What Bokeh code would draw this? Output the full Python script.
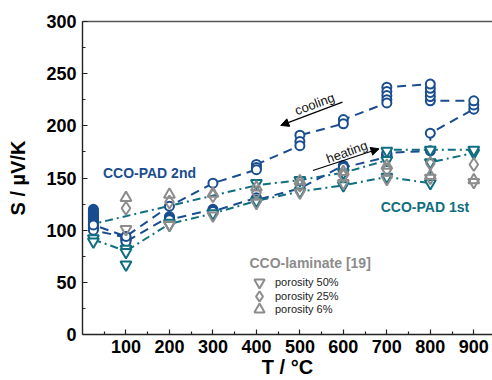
from bokeh.plotting import figure
from bokeh.models import (Range1d, LinearAxis, Label, Arrow, NormalHead, Legend,
                          LegendItem, FixedTicker)
from bokeh.embed import file_html
from bokeh.resources import INLINE

BLUE = "#1a4d8f"
TEAL = "#0f6f80"
GRAY = "#8c8c8c"
FONT = "Liberation Sans"

# ---- CCO-PAD 2nd run (heating then cooling, measurement order) ----
t_pad2 = [25, 25, 25, 25, 25, 25, 25, 25, 25, 25, 25, 25, 25, 25, 25, 25, 25, 25, 25, 25, 25,
          100, 100, 100, 100, 100,
          200, 200, 200, 200,
          300, 300, 300,
          400, 400,
          500,
          600, 600, 600,
          700, 700, 700, 700, 700,
          800, 800,
          900, 900, 900,
          800, 800, 800, 800, 800,
          700, 700, 700, 700, 700,
          600, 600,
          500, 500, 500,
          400, 400, 400,
          300,
          200,
          100,
          25]
s_pad2 = [120, 119, 118, 117, 116, 115, 114, 113, 112, 111, 110, 109, 108, 107, 106, 105,
          104, 103, 102, 101, 100,
          93, 92, 91, 90, 89,
          113, 112, 111, 110,
          120, 119, 118,
          131, 129,
          140,
          162, 161, 160,
          170, 171, 172, 173, 174,
          176, 193,
          216, 220, 224,
          224, 228, 232, 236, 240,
          237, 233, 229, 225, 222,
          206, 202,
          191, 185, 181,
          163, 160, 158,
          145,
          123,
          94,
          105]

# ---- CCO-PAD 1st run ----
t_pad1_heat = [25, 100, 200, 300, 400, 500, 600, 700, 800, 800, 900]
s_pad1_heat = [91, 80, 106, 116, 128, 137, 143, 151, 145, 165, 174]
t_pad1_cool = [900, 800, 700, 700, 600, 500, 400, 25]
s_pad1_cool = [177, 177, 177, 167, 155, 148, 143, 106]
t_pad1_pts = [25, 25, 100, 100, 100, 200, 200, 300, 400, 400, 500, 500,
              600, 600, 700, 700, 700, 800, 800, 800, 900, 900]
s_pad1_pts = [92, 89, 82, 79, 67, 107, 105, 116, 128, 145, 137, 148,
              143, 155, 151, 167, 176, 145, 165, 177, 174, 177]

# ---- CCO-laminate [19] ----
t_lam = [100, 200, 300, 400, 500, 600, 700, 800, 900]
s_por50 = [101, 105, 114, 126, 136, 145, 149, 150, 146]
s_por25 = [121, 127, 133, 136, 143, 152, 158, 164, 163]
s_por6 = [131, 134, 135, 141, 147, 156, 162, 152, 148]
lam_labels = ["porosity 50%", "porosity 25%", "porosity 6%"]

x_ticks = [100, 200, 300, 400, 500, 600, 700, 800, 900]
x_minor = [50, 150, 250, 350, 450, 550, 650, 750, 850]
y_ticks = [0, 50, 100, 150, 200, 250, 300]
y_minor = [25, 75, 125, 175, 225, 275]

p = figure(width=492, height=380, output_backend="svg", toolbar_location=None,
           x_range=Range1d(0, 943), y_range=Range1d(0, 300),
           min_border_left=82, min_border_right=0, min_border_top=21,
           min_border_bottom=46)
p.outline_line_color = None
p.xgrid.visible = False
p.ygrid.visible = False
p.background_fill_color = "white"

for ax in (p.xaxis[0], p.yaxis[0]):
    ax.axis_line_color = "#222222"
    ax.axis_line_width = 1.4
    ax.major_tick_line_color = "#222222"
    ax.minor_tick_line_color = "#222222"
    ax.major_tick_line_width = 1.2
    ax.minor_tick_line_width = 1.2
    ax.major_tick_in = 5
    ax.major_tick_out = 0
    ax.minor_tick_in = 3
    ax.minor_tick_out = 0
    ax.major_label_text_font = FONT
    ax.major_label_text_font_style = "bold"
    ax.major_label_text_font_size = "18px"
    ax.major_label_text_color = "black"
    ax.axis_label_text_font = FONT
    ax.axis_label_text_font_style = "bold"
    ax.axis_label_text_font_size = "20px"
    ax.axis_label_text_color = "black"
p.xaxis.ticker = FixedTicker(ticks=x_ticks, minor_ticks=x_minor)
p.yaxis.ticker = FixedTicker(ticks=y_ticks, minor_ticks=y_minor)
p.xaxis.major_label_standoff = 5
p.yaxis.major_label_standoff = 6
p.xaxis.axis_label = "T / °C"
p.yaxis.axis_label = "S / µV/K"
p.xaxis.axis_label_standoff = 0
p.yaxis.axis_label_standoff = 14

top = LinearAxis(ticker=FixedTicker(ticks=[]), axis_line_color="#555555",
                 axis_line_width=1.4, major_tick_line_color=None,
                 minor_tick_line_color=None, major_label_text_font_size="0px",
                 major_label_standoff=0)
p.add_layout(top, "above")

# lines
p.line(t_pad1_heat, s_pad1_heat, line_color=TEAL, line_width=2, line_dash="8 4 2 4")
p.line(t_pad1_cool, s_pad1_cool, line_color=TEAL, line_width=2, line_dash="8 4 2 4")
p.line(t_pad2, s_pad2, line_color=BLUE, line_width=2, line_dash="9 6")

# markers
p.scatter(t_pad2, s_pad2, marker="circle", size=9, line_color=BLUE,
          fill_color="white", line_width=2)
p.scatter(t_pad1_pts, s_pad1_pts, marker="inverted_triangle", size=11,
          line_color=TEAL, fill_color="white", line_width=2)
r50 = p.scatter(t_lam, s_por50, marker="inverted_triangle", size=11,
                line_color=GRAY, fill_color=None, line_width=2)
r25 = p.scatter(t_lam, s_por25, marker="diamond", size=13,
                line_color=GRAY, fill_color=None, line_width=2)
r6 = p.scatter(t_lam, s_por6, marker="triangle", size=11,
               line_color=GRAY, fill_color=None, line_width=2)

# one legend per row so that rows can sit close while keys stay full size
for lab, rend, y_off in zip(lam_labels, [r50, r25, r6], [39, 25.5, 12]):
    lg = Legend(items=[LegendItem(label=lab, renderers=[rend])], location=(164, y_off))
    lg.label_text_font = FONT
    lg.label_text_font_size = "11px"
    lg.label_text_color = "#222222"
    lg.background_fill_alpha = 0
    lg.border_line_color = None
    lg.padding = 0
    lg.margin = 0
    lg.spacing = 0
    lg.label_height = 26
    lg.glyph_height = 26
    lg.glyph_width = 26
    lg.label_standoff = 3
    p.add_layout(lg)

p.add_layout(Label(x=384, y=69, text="CCO-laminate [19]", text_font=FONT,
                   text_font_style="bold", text_font_size="14px",
                   text_color=GRAY, text_baseline="middle"))

# text annotations
p.add_layout(Label(x=47, y=155, text="CCO-PAD 2nd", text_font=FONT,
                   text_font_style="bold", text_font_size="14px",
                   text_color=BLUE, text_baseline="middle"))
p.add_layout(Label(x=686, y=122, text="CCO-PAD 1st", text_font=FONT,
                   text_font_style="bold", text_font_size="14px",
                   text_color=TEAL, text_baseline="middle"))
p.add_layout(Label(x=534, y=221, text="cooling", text_font=FONT,
                   text_font_size="13px", text_color="#111111",
                   text_align="center", text_baseline="middle", angle=0.35))
p.add_layout(Label(x=608, y=175, text="heating", text_font=FONT,
                   text_font_size="13px", text_color="#111111",
                   text_align="center", text_baseline="middle", angle=0.35))
p.add_layout(Arrow(x_start=598, y_start=222.7, x_end=456, y_end=200.4,
                   line_color="black", line_width=1.2,
                   end=NormalHead(size=8, fill_color="black", line_color="black")))
p.add_layout(Arrow(x_start=530, y_start=157.2, x_end=682, y_end=178,
                   line_color="black", line_width=1.2,
                   end=NormalHead(size=8, fill_color="black", line_color="black")))

open("out.html", "w").write(file_html(p, INLINE))
